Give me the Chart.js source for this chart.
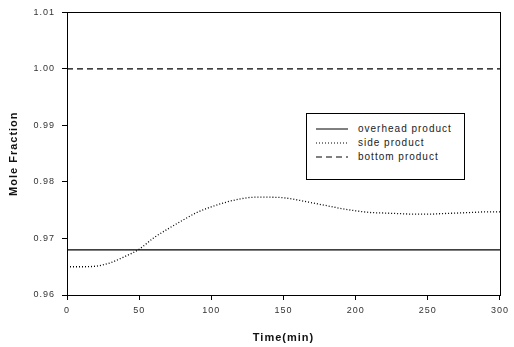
<!DOCTYPE html>
<html>
<head>
<meta charset="utf-8">
<script src="https://cdn.jsdelivr.net/npm/chart.js@4.4.1/dist/chart.umd.min.js"></script>
<style>
    html, body { margin: 0; padding: 0; background: #fff; }
    #wrap { position: relative; width: 514px; height: 347px; }
    #legendBox {
        position: absolute; left: 306px; top: 113px; width: 157px; height: 65px;
        border: 1px solid #000; background: #fff;
        font-family: "Liberation Sans", Arial, sans-serif; font-size: 10px;
        letter-spacing: 1px; color: #222;
    }
    #legendBox .item { position: absolute; left: 0; height: 14px; line-height: 14px; }
    #legendBox svg { position: absolute; left: 9px; top: 6px; }
    #legendBox span { position: absolute; left: 51px; white-space: nowrap; }
</style>
</head>
<body>
<div id="wrap">
    <canvas id="moleChart" width="514" height="347"></canvas>
    <div id="legendBox"></div>
</div>
<script>
    const timeMin = [0, 10, 20, 30, 40, 50, 60, 70, 80, 90, 100, 110, 120, 130, 140, 150,
        160, 170, 180, 190, 200, 210, 220, 230, 240, 250, 260, 270, 280, 290, 300];
    const sideProduct = [0.9650, 0.9650, 0.9651, 0.9657, 0.9668, 0.9681, 0.9701, 0.9717, 0.9732,
        0.9746, 0.9756, 0.9764, 0.9770, 0.9773, 0.9773, 0.9772, 0.9768, 0.9763, 0.9758, 0.9753,
        0.9749, 0.9746, 0.9745, 0.9744, 0.9743, 0.9743, 0.9744, 0.9745, 0.9746, 0.9747, 0.9747];
    const overheadTime = [0, 300];
    const overheadProduct = [0.968, 0.968];
    const bottomTime = [0, 300];
    const bottomProduct = [1.000, 1.000];
    const legendLabels = ['overhead product', 'side product', 'bottom product'];

    const toPoints = (xs, ys) => xs.map((x, i) => ({ x: x, y: ys[i] }));

    // letter spacing for the canvas text, the reference font is spaced out
    const spacingPlugin = {
        id: 'spacing',
        beforeLayout: (chart) => { chart.ctx.letterSpacing = '1px'; },
        beforeDraw: (chart) => { chart.ctx.letterSpacing = '1px'; }
    };

    // box round the plot
    const framePlugin = {
        id: 'frame',
        afterDraw: (chart) => {
            const a = chart.chartArea;
            const ctx = chart.ctx;
            ctx.save();
            ctx.strokeStyle = '#000';
            ctx.lineWidth = 1;
            ctx.strokeRect(Math.round(a.left) + 0.5, Math.round(a.top) + 0.5,
                Math.round(a.right - a.left), Math.round(a.bottom - a.top));
            ctx.restore();
        }
    };

    const tickFont = { family: '"Liberation Sans", Arial, sans-serif', size: 9 };
    const titleFont = { family: '"Liberation Sans", Arial, sans-serif', size: 11, weight: 'bold' };

    const datasets = [
        {
            label: legendLabels[0],
            data: toPoints(overheadTime, overheadProduct),
            borderColor: '#000', borderWidth: 1.3, pointRadius: 0
        },
        {
            label: legendLabels[1],
            data: toPoints(timeMin, sideProduct),
            borderColor: '#000', borderWidth: 1.3, borderDash: [1, 2],
            pointRadius: 0, cubicInterpolationMode: 'monotone'
        },
        {
            label: legendLabels[2],
            data: toPoints(bottomTime, bottomProduct),
            borderColor: '#000', borderWidth: 1.3, borderDash: [6, 4], pointRadius: 0
        }
    ];

    new Chart(document.getElementById('moleChart'), {
        type: 'scatter',
        data: { datasets: datasets.map(d => Object.assign({ showLine: true, fill: false }, d)) },
        options: {
            responsive: false,
            animation: false,
            layout: { padding: { top: 12, right: 9, left: 0, bottom: 0 } },
            plugins: { legend: { display: false }, tooltip: { enabled: false } },
            scales: {
                x: {
                    type: 'linear', min: 0, max: 300,
                    afterFit: (scale) => { scale.height = 52; },
                    ticks: { stepSize: 50, color: '#333', font: tickFont, padding: 5, maxRotation: 0 },
                    grid: { drawOnChartArea: false, drawTicks: true, tickLength: 5, color: '#000' },
                    border: { display: true, color: '#000', width: 1 },
                    title: { display: true, text: 'Time(min)', color: '#111', font: titleFont, padding: { top: 0, bottom: 2 } }
                },
                y: {
                    type: 'linear', min: 0.96, max: 1.01,
                    afterFit: (scale) => { scale.width = 67; },
                    ticks: {
                        stepSize: 0.01, color: '#333', font: tickFont, padding: 7,
                        callback: (value) => value.toFixed(2)
                    },
                    grid: { drawOnChartArea: false, drawTicks: true, tickLength: 5, color: '#000' },
                    border: { display: true, color: '#000', width: 1 },
                    title: { display: true, text: 'Mole Fraction', color: '#111', font: titleFont, padding: { top: 7, bottom: 0 } }
                }
            }
        },
        plugins: [spacingPlugin, framePlugin]
    });

    // legend inside the plot, as in the reference
    const dashes = ['', '1,2', '6,4'];
    const box = document.getElementById('legendBox');
    legendLabels.forEach((label, i) => {
        const item = document.createElement('div');
        item.className = 'item';
        item.style.top = (8 + i * 14) + 'px';
        item.style.width = '100%';
        item.innerHTML = `
            <svg width="32" height="2"><line x1="0" y1="1" x2="32" y2="1" stroke="#000"
                stroke-width="1" stroke-dasharray="${dashes[i]}"/></svg>
            <span>${label}</span>`;
        box.appendChild(item);
    });
</script>
</body>
</html>
